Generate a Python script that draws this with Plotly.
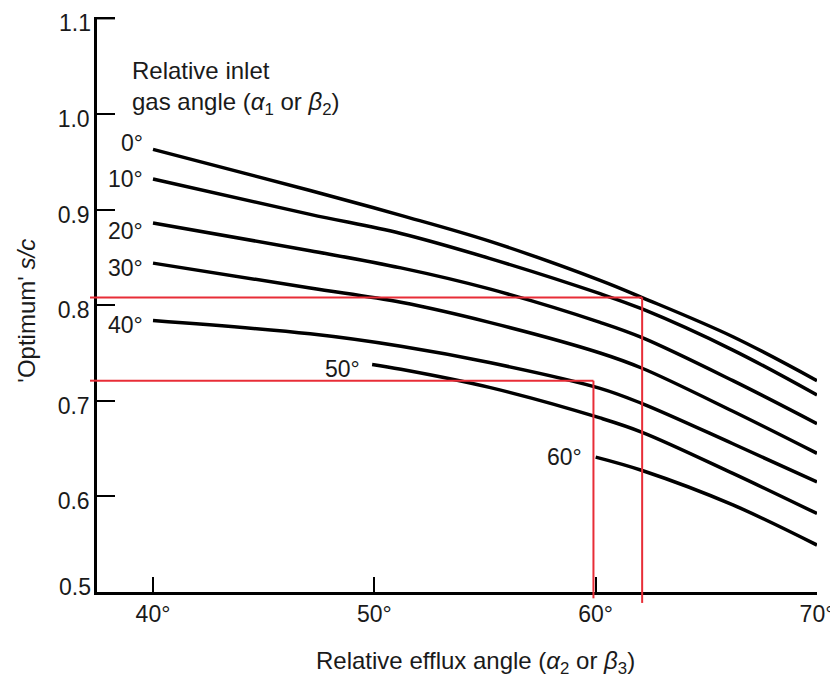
import plotly.graph_objects as go

# relative efflux angle (deg) where each curve was read
x_main = [40, 47.1, 51.2, 55.2, 60.2, 62.1, 66.2, 70]
x_50 = [49.9, 51.2, 55.2, 60.2, 62.1, 66.2, 70]
x_60 = [60.0, 62.1, 66.2, 70]

# optimum s/c for each inlet gas angle
sc_0 = [0.963, 0.920, 0.894, 0.867, 0.826, 0.808, 0.767, 0.721]
sc_10 = [0.932, 0.895, 0.875, 0.849, 0.812, 0.796, 0.753, 0.706]
sc_20 = [0.886, 0.857, 0.839, 0.817, 0.782, 0.766, 0.721, 0.676]
sc_30 = [0.844, 0.818, 0.803, 0.782, 0.750, 0.734, 0.689, 0.645]
sc_40 = [0.784, 0.770, 0.757, 0.740, 0.713, 0.697, 0.655, 0.615]
sc_50 = [0.738, 0.733, 0.714, 0.682, 0.667, 0.624, 0.582]
sc_60 = [0.641, 0.627, 0.591, 0.549]

inlet_labels = ['0°', '10°', '20°', '30°', '40°', '50°', '60°']

# red read-off lines (efflux angle, s/c)
red_x = [62.1, 59.9]
red_y = [0.808, 0.721]

x_ticks = [40, 50, 60, 70]
x_tick_text = ['40°', '50°', '60°', '70°']
y_ticks = [0.5, 0.6, 0.7, 0.8, 0.9, 1.0, 1.1]
y_tick_text = ['', '0.6', '0.7', '0.8', '0.9', '1.0', '']

FONT = 'Liberation Sans, Arial, Helvetica, sans-serif'
INK = '#1a1a1a'
RED = 'rgb(232,45,55)'
FS = 24

curves = [
    (x_main, sc_0), (x_main, sc_10), (x_main, sc_20), (x_main, sc_30),
    (x_main, sc_40), (x_50, sc_50), (x_60, sc_60),
]
# label offsets (px) from the start of each curve
label_shift = [(-8, 6), (-8, 0), (-8, -8), (-8, -5), (-8, -5), (-10, -5), (-12, 0)]

fig = go.Figure()

for (xs, ys), name in zip(curves, inlet_labels):
    fig.add_trace(go.Scatter(
        x=xs, y=ys, mode='lines', name=name,
        line=dict(color='black', width=3.5, shape='spline', smoothing=1.0),
        showlegend=False, hoverinfo='skip',
    ))

for (xs, ys), name, (dx, dy) in zip(curves, inlet_labels, label_shift):
    fig.add_annotation(
        x=xs[0], y=ys[0], text=name, showarrow=False,
        xanchor='right', yanchor='middle', xshift=dx, yshift=dy,
        font=dict(size=FS - 1, color=INK, family=FONT),
    )

fig.add_annotation(
    x=38.96, y=1.0275, text='Relative inlet<br>gas angle (<i>α</i><sub>1</sub> or <i>β</i><sub>2</sub>)',
    showarrow=False, xanchor='left', yanchor='middle', align='left',
    font=dict(size=FS, color=INK, family=FONT),
)

# end labels of the y axis sit inside the corners, like the original
for v, dy in ((y_ticks[-1], -5), (y_ticks[0], 5)):
    fig.add_annotation(
        xref='paper', yref='y', x=0, y=v, text=f'{v:.1f}', showarrow=False,
        xanchor='right', yanchor='middle', xshift=-4, yshift=dy,
        font=dict(size=FS - 1, color=INK, family=FONT),
    )
# top tick of the y axis (plotly drops inside ticks at the range end)
fig.add_shape(type='line', xref='paper', yref='y', x0=0, x1=0.025,
              y0=y_ticks[-1], y1=y_ticks[-1], line=dict(color='black', width=2))

# red guide lines, plus short stubs past the axes
for rx, ry in zip(red_x, red_y):
    fig.add_shape(type='line', xref='x', yref='y', x0=37.0, x1=rx, y0=ry, y1=ry,
                  line=dict(color=RED, width=2))
    fig.add_shape(type='line', xref='x', yref='y', x0=rx, x1=rx, y0=ry, y1=0.5,
                  line=dict(color=RED, width=2))
    fig.add_shape(type='line', xref='paper', yref='y', x0=-0.0097, x1=0, y0=ry, y1=ry,
                  line=dict(color=RED, width=2))
fig.add_shape(type='line', xref='x', yref='paper', x0=red_x[0], x1=red_x[0], y0=-0.019, y1=0,
              line=dict(color=RED, width=2))
fig.add_shape(type='line', xref='x', yref='paper', x0=red_x[1], x1=red_x[1], y0=-0.011, y1=0,
              line=dict(color=RED, width=2))

# axis titles as annotations so they sit where the original has them
fig.add_annotation(
    xref='paper', yref='paper', x=0.526, y=-0.122,
    text='Relative efflux angle (<i>α</i><sub>2</sub> or <i>β</i><sub>3</sub>)',
    showarrow=False, xanchor='center', yanchor='middle',
    font=dict(size=FS, color=INK, family=FONT),
)
fig.add_annotation(
    xref='paper', yref='paper', x=-0.098, y=0.49, textangle=-90,
    text="'Optimum' <i>s/c</i>",
    showarrow=False, xanchor='center', yanchor='middle',
    font=dict(size=FS, color=INK, family=FONT),
)

# page body adds an 8px margin, so the figure is 8px smaller and shifted up/left
fig.update_layout(
    width=830, height=675,
    margin=dict(l=89, r=21, t=9, b=91),
    paper_bgcolor='white', plot_bgcolor='white',
    font=dict(family=FONT, color=INK, size=FS),
    xaxis=dict(
        range=[37.47, 70], tickvals=x_ticks, ticktext=x_tick_text, automargin=False,
        showgrid=False, zeroline=False, showline=True, linecolor='black', linewidth=2.5,
        ticks='inside', ticklen=15, tickwidth=2, tickcolor='black',
        tickfont=dict(size=FS - 1, color=INK), ticklabeloverflow='allow',
    ),
    yaxis=dict(
        range=[0.4999, 1.1015], tickvals=y_ticks, ticktext=y_tick_text, automargin=False,
        showgrid=False, zeroline=False, showline=True, linecolor='black', linewidth=2.5,
        ticks='inside', ticklen=18, tickwidth=2, tickcolor='black',
        tickfont=dict(size=FS - 1, color=INK), ticklabeloverflow='allow',
        ticklabelshift=5,
    ),
)

fig.write_html('out.html')
